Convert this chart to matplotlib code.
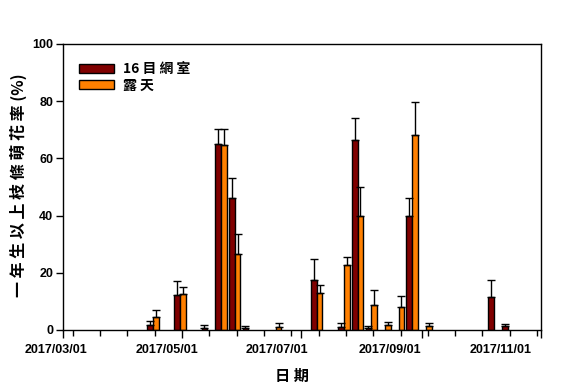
import matplotlib
matplotlib.use("Agg")
import matplotlib.pyplot as plt
import matplotlib.dates as mdates
import matplotlib.transforms as mtransforms
from matplotlib.patches import Patch
import numpy as np
import datetime as dt

# sampling dates (weekly-ish)
dates = ['2017-04-16', '2017-04-30', '2017-05-14', '2017-05-21', '2017-05-28',
         '2017-06-04', '2017-06-18', '2017-07-09', '2017-07-23', '2017-07-30',
         '2017-08-06', '2017-08-13', '2017-08-20', '2017-08-27', '2017-09-03',
         '2017-10-08', '2017-10-15']

# 16目網室
net_vals = [1.7, 12.2, 0.7, 64.9, 46.0, 0.6, 0, 17.5, 1.2, 66.3,
            0.6, 0, 0, 39.8, 0, 11.4, 1.3]
net_err = [1.3, 4.8, 0.9, 5.3, 7.0, 0.7, 0, 7.2, 1.1, 7.7,
           0.7, 0, 0, 6.2, 0, 6.0, 0.7]

# 露天
open_vals = [4.7, 12.6, 0, 64.6, 26.5, 0, 1.2, 12.8, 22.6, 39.8,
             8.9, 1.6, 7.9, 68.2, 1.4, 0, 0]
open_err = [2.2, 2.3, 0, 5.6, 7.0, 0, 1.1, 2.8, 2.8, 10.1,
            5.0, 1.1, 3.9, 11.4, 0.9, 0, 0]

series_names = ['16 目 網 室', '露 天']
tick_dates = ['2017-03-01', '2017-05-01', '2017-07-01', '2017-09-01', '2017-11-01']
tick_labels = ['2017/03/01', '2017/05/01', '2017/07/01', '2017/09/01', '2017/11/01']

cjk = ['Noto Sans CJK TC', 'DejaVu Sans']
latin = ['Liberation Sans', 'DejaVu Sans']

fig = plt.figure(figsize=(5.81, 3.88), dpi=100)
ax = fig.add_axes([63 / 581, 1 - 330 / 388, 478 / 581, 286 / 388])

x = mdates.date2num([dt.datetime.strptime(d, '%Y-%m-%d') for d in dates])
w = 2.95

def draw_series(xs, vals, errs, color):
    vals = np.array(vals)
    errs = np.array(errs)
    keep = vals > 0
    ax.bar(xs[keep], vals[keep], width=w, color=color, edgecolor='black',
           linewidth=1.0, align='edge', zorder=2)
    ax.errorbar(xs[keep] + w / 2, vals[keep], yerr=[np.zeros(keep.sum()), errs[keep]],
                fmt='none', ecolor='black', elinewidth=1.0, capsize=3.2,
                capthick=1.0, zorder=3)

draw_series(x - w, net_vals, net_err, '#800000')
draw_series(x, open_vals, open_err, '#ff8000')

x0 = mdates.date2num(dt.datetime(2017, 3, 1))
x1 = mdates.date2num(dt.datetime(2017, 11, 1))
ax.set_xlim(x0, x1)
ax.set_ylim(0, 100)

tick_x = mdates.date2num([dt.datetime.strptime(d, '%Y-%m-%d') for d in tick_dates])
ax.set_xticks(tick_x)
ax.set_xticklabels(tick_labels, fontfamily=latin, fontweight='bold', fontsize=9)
minor_x = np.arange(mdates.date2num(dt.datetime(2017, 3, 6)), x1, 14)
ax.set_xticks(minor_x, minor=True)

ax.set_yticks([0, 20, 40, 60, 80, 100])
ax.set_yticklabels(['0', '20', '40', '60', '80', '100'], fontfamily=latin,
                   fontweight='bold', fontsize=9)

ax.tick_params(axis='x', which='major', direction='out', length=6, width=1, pad=4)
ax.tick_params(axis='x', which='minor', direction='out', length=4, width=1)
ax.tick_params(axis='y', direction='out', length=5, width=1, pad=2)
for sp in ax.spines.values():
    sp.set_linewidth(1.0)

# labels sit a bit left of their ticks in the original
shifts = [-7, -15, -24, -32, -40]
for lab, s in zip(ax.get_xticklabels(), shifts):
    lab.set_transform(lab.get_transform() + mtransforms.ScaledTranslation(s / 100, 0, fig.dpi_scale_trans))

ax.set_xlabel('日 期', fontfamily=cjk, fontweight='bold', fontsize=11)
ax.xaxis.set_label_coords((292 - 63) / 478, -38 / 286)
ax.set_ylabel('一 年 生 以 上 枝 條 萌 花 率 (%)', fontfamily=cjk, fontweight='bold',
              fontsize=11.5, va='center')
ax.yaxis.set_label_coords((18 - 63) / 478, 0.505)

handles = [Patch(facecolor='#800000', edgecolor='black', linewidth=1.0),
           Patch(facecolor='#ff8000', edgecolor='black', linewidth=1.0)]
ax.legend(handles, series_names, loc='upper left',
          bbox_to_anchor=(16 / 478, 1 - 18.5 / 286), frameon=False,
          prop={'family': cjk, 'weight': 'bold', 'size': 10},
          handlelength=2.5, handleheight=0.65, handletextpad=0.7,
          labelspacing=0.15, borderpad=0, borderaxespad=0)

fig.savefig('out.png', dpi=100)
